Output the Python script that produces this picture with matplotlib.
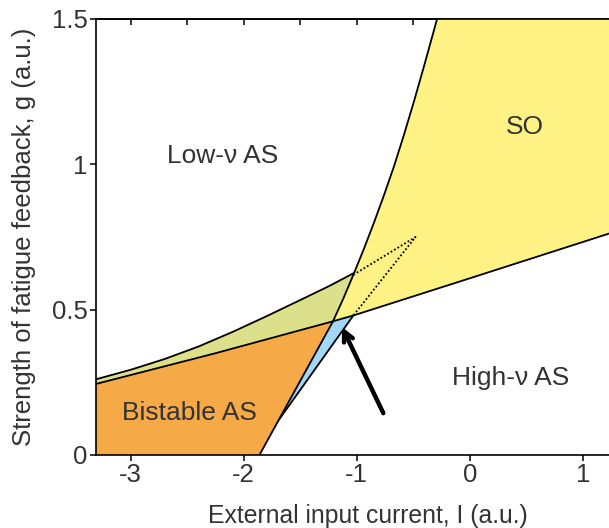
import numpy as np
import matplotlib
matplotlib.use("Agg")
import matplotlib.pyplot as plt

plt.rcParams['font.family'] = ['Liberation Sans', 'DejaVu Sans']

# ---- data ----
curveA_I = [-3.31, -3.0, -2.7, -2.4, -2.1, -1.8, -1.5, -1.25, -1.03]     # upper boundary of green overlap
curveA_g = [0.260, 0.293, 0.330, 0.373, 0.423, 0.477, 0.533, 0.580, 0.625]
lineB_I = [-3.31, -2.25, -1.21, -1.03, 0.0, 1.24]                      # orange top / SO bottom
lineB_g = [0.244, 0.350, 0.460, 0.480, 0.608, 0.763]
curveC_I = [-1.21, -1.12, -1.03, -0.94, -0.85, -0.76, -0.67, -0.58, -0.49, -0.40, -0.29]  # SO left boundary
curveC_g = [0.460, 0.537, 0.620, 0.706, 0.797, 0.893, 0.994, 1.105, 1.222, 1.345, 1.500]
orange_edge_I = [-1.21, -1.86]
orange_edge_g = [0.46, 0.0]
blue_edge_I = [-1.03, -1.69]
blue_edge_g = [0.48, 0.12]
dotted_I = [-1.03, -0.48, -1.03]
dotted_g = [0.620, 0.750, 0.480]
arrow_tail = (-0.765, 0.144)
arrow_head = (-1.13, 0.44)

xmin, xmax = -3.305, 1.23
ymin, ymax = 0.0, 1.5

c_yellow = '#FFF285'
c_green = '#DCE08A'
c_orange = '#F6A947'
c_blue = '#A0D8F5'
c_text = '#333333'

fig = plt.figure(figsize=(6.09, 5.28), dpi=100)
ax = fig.add_axes([96/609, 1-455/528, 513/609, (455-19)/528])

bx = np.array(lineB_I); bg = np.array(lineB_g)

# yellow SO region
so_x = list(curveC_I) + [1.24, 1.24]
so_y = list(curveC_g) + [1.5, lineB_g[-1]]
mask = bx > curveC_I[0]
so_x += list(bx[mask][::-1]) + [curveC_I[0]]
so_y += list(bg[mask][::-1]) + [curveC_g[0]]
ax.fill(so_x, so_y, color=c_yellow, lw=0, zorder=1)

# green overlap
cx = np.array(curveC_I); cg = np.array(curveC_g)
cm = cx <= curveA_I[-1] + 1e-9
gx = list(curveA_I) + list(cx[cm][::-1])
gy = list(curveA_g) + list(cg[cm][::-1])
maskL = bx < curveC_I[0]
gx += list(bx[maskL][::-1])
gy += list(bg[maskL][::-1])
ax.fill(gx, gy, color=c_green, lw=0, zorder=1)

# orange bistable
ox = [lineB_I[0], orange_edge_I[1], orange_edge_I[0]] + list(bx[maskL][::-1])
oy = [0, 0, orange_edge_g[0]] + list(bg[maskL][::-1])
ax.fill(ox, oy, color=c_orange, lw=0, zorder=1)

# blue wedge
ax.fill([orange_edge_I[0], blue_edge_I[0], blue_edge_I[1]],
        [orange_edge_g[0], blue_edge_g[0], blue_edge_g[1]], color=c_blue, lw=0, zorder=1)

lw = 1.3
kw = dict(color='black', lw=lw, zorder=3, solid_joinstyle='round')
ax.plot(curveA_I, curveA_g, **kw)
ax.plot(lineB_I, lineB_g, **kw)
ax.plot(curveC_I, curveC_g, **kw)
ax.plot(orange_edge_I, orange_edge_g, **kw)
ax.plot(blue_edge_I, blue_edge_g, **kw)
ax.plot(dotted_I, dotted_g, color='black', lw=1.3, ls=(0, (1, 1.2)), zorder=3)

ax.annotate('', xy=arrow_head, xytext=arrow_tail,
            arrowprops=dict(arrowstyle='->,head_length=0.7,head_width=0.35',
                            lw=3.2, color='black', shrinkA=0, shrinkB=0), zorder=4)

fs = 19
ax.text(-2.19, 1.03, 'Low-ν AS', fontsize=fs, color=c_text, ha='center', va='center')
ax.text(0.49, 1.127, 'SO', fontsize=fs, color=c_text, ha='center', va='center')
ax.text(0.36, 0.265, 'High-ν AS', fontsize=fs, color=c_text, ha='center', va='center')
ax.text(-2.48, 0.145, 'Bistable AS', fontsize=fs, color=c_text, ha='center', va='center')

ax.set_xlim(xmin, xmax)
ax.set_ylim(ymin, ymax)
ax.set_xticks([-3, -2, -1, 0, 1])
ax.set_xticklabels(['-3', '-2', '-1', '0', '1'])
ax.set_yticks([0, 0.5, 1, 1.5])
ax.set_yticklabels(['0', '0.5', '1', '1.5'])
ax.tick_params(axis='both', labelsize=18.5, labelcolor=c_text, direction='out', length=4.5, width=1.1, pad=1.5)
ax.spines['right'].set_visible(False)
for s in ['left', 'bottom', 'top']:
    ax.spines[s].set_linewidth(1.2)
    ax.spines[s].set_zorder(5)

top = ax.secondary_xaxis('top')
top.set_xticks(np.arange(-3, 1.01, 0.5))
top.set_xticklabels([])
top.tick_params(direction='in', length=4.5, width=1.1)
top.spines['top'].set_linewidth(1.2)

ax.set_xlabel('External input current, I (a.u.)', fontsize=17.8, color=c_text)
ax.set_ylabel('Strength of fatigue feedback, g (a.u.)', fontsize=18.5, color=c_text)
ax.xaxis.set_label_coords(0.53, -0.112)
ax.yaxis.set_label_coords(-0.117, 0.5)

fig.savefig('out.png', dpi=100)
